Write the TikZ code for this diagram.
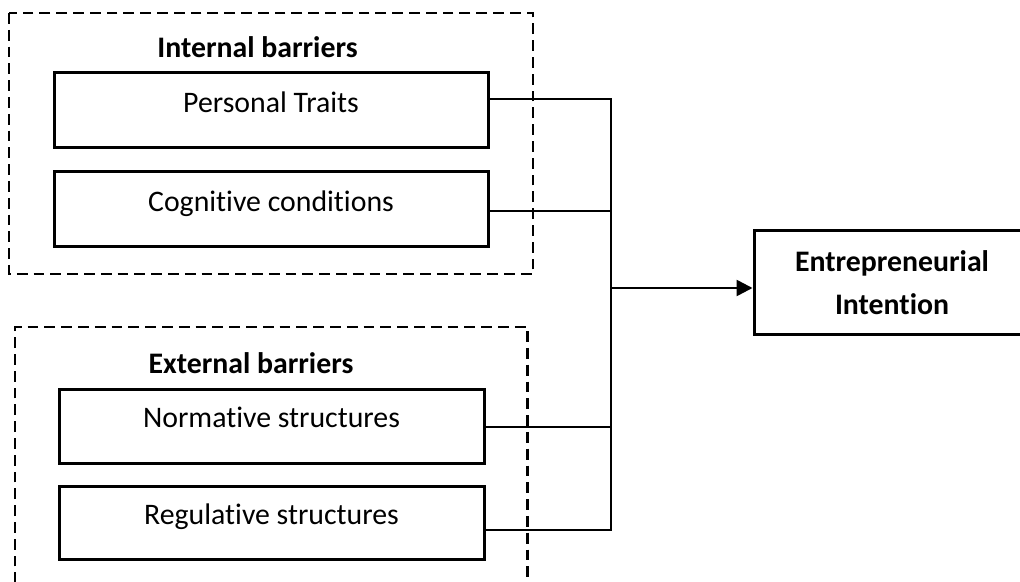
\documentclass[tikz,border=0pt]{standalone}
\usepackage{fontspec}
\setmainfont{Carlito}[Ligatures=NoCommon]
\usetikzlibrary{positioning, arrows.meta}
\definecolor{PrimaryColor}{RGB}{0,0,0}
\newcommand{\labelfont}{\fontsize{14.9}{21.5}\selectfont}
\tikzstyle{factor} = [draw=PrimaryColor, line width=1.5pt, minimum width=217pt, minimum height=37.5pt, text height=8pt, text depth=6.3pt, inner sep=0pt]
\tikzstyle{outcome} = [draw=PrimaryColor, line width=1.5pt, minimum width=138pt, minimum height=51.5pt, align=center, font=\labelfont\bfseries]
\tikzstyle{heading} = [font=\labelfont\bfseries]
\tikzstyle{group} = [PrimaryColor, line width=1.45pt, dash pattern=on 5.4pt off 3pt]
\tikzstyle{link} = [PrimaryColor, line width=1.3pt]
\tikzstyle{arrow} = [PrimaryColor, line width=1.3pt, -{Triangle[length=8pt, width=8pt]}]

\begin{document}
\begin{tikzpicture}[x=0.5pt, y=-0.5pt, font=\labelfont]
    \useasboundingbox (0,0) rectangle (1020,582);
    \clip (0,0) rectangle (1020,582);

    % Internal barriers
    \draw[group] (9,13) rectangle (533,274);
    \node[heading] (ib) at (257.5,47) {Internal barriers};
    \node[factor] (pt) at (271,110.5) {Personal Traits};
    \node[factor] (cc) at (271,209.5) {Cognitive conditions};

    % External barriers
    \draw[group] (15,600) |- (527.5,327) -- (527.5,600);
    \node[heading] (eb) at (251,363) {External barriers};
    \node[factor, minimum width=212.5pt, minimum height=37pt] (ns) at (271.5,426) {Normative structures};
    \node[factor, minimum width=212.5pt, minimum height=36.5pt] (rs) at (271.5,522.5) {Regulative structures};

    % Outcome
    \node[outcome] (ei) at (892,282.5) {Entrepreneurial\\Intention};

    % Bus
    \coordinate (bustop) at (611,99);
    \coordinate (busbot) at (611,530);
    \coordinate (hub) at (611,288);
    \draw[link] ([yshift=5.75pt]pt.east) -- (bustop) -- (busbot) -- ([yshift=-3.75pt]rs.east);
    \draw[link] ([yshift=-0.75pt]cc.east) -- ([yshift=-0.75pt]cc.east -| hub);
    \draw[link] ([yshift=-0.5pt]ns.east) -- ([yshift=-0.5pt]ns.east -| hub);
    \draw[arrow] (hub) -- (hub -| ei.west);
\end{tikzpicture}
\end{document}
